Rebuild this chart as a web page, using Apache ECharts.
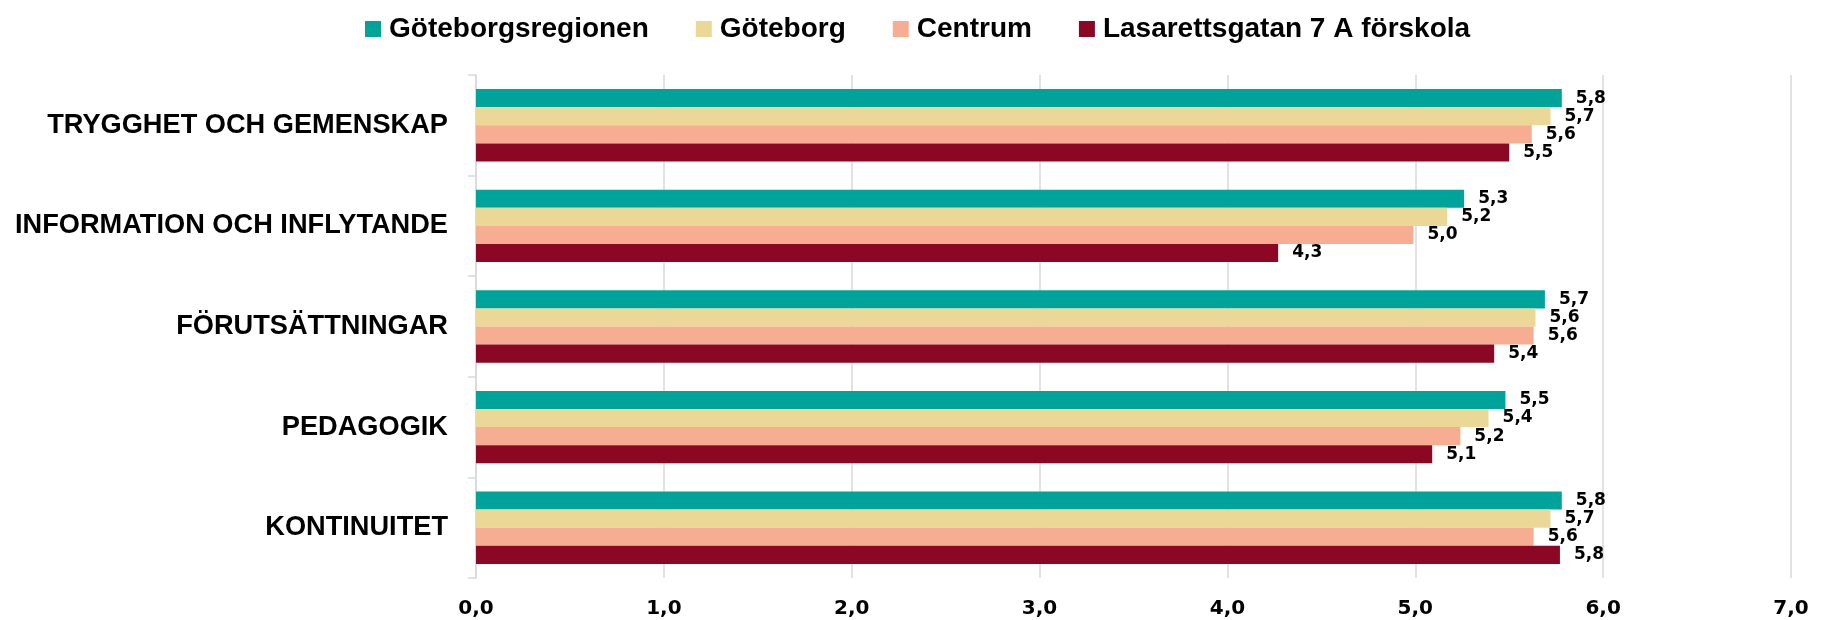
<!DOCTYPE html>
<html>
<head>
<meta charset="utf-8">
<script src="https://cdn.jsdelivr.net/npm/echarts@6/dist/echarts.min.js"></script>
<style>
html,body{margin:0;padding:0;background:#fff;}
#chart{width:1829px;height:620px;}
</style>
</head>
<body>
<div id="chart"></div>
<script>
const categories = ['TRYGGHET OCH GEMENSKAP','INFORMATION OCH INFLYTANDE','FÖRUTSÄTTNINGAR','PEDAGOGIK','KONTINUITET'];
const seriesNames = ['Göteborgsregionen','Göteborg','Centrum','Lasarettsgatan 7 A förskola'];
const goteborgsregionen = [5.78, 5.26, 5.69, 5.48, 5.78];
const goteborg = [5.72, 5.17, 5.64, 5.39, 5.72];
const centrum = [5.62, 4.99, 5.63, 5.24, 5.63];
const lasarettsgatan = [5.50, 4.27, 5.42, 5.09, 5.77];
const xTicks = [0,1,2,3,4,5,6,7];

const colors = ['#00a39a','#ecd896','#f6ad91','#8b0724'];
const values = [goteborgsregionen, goteborg, centrum, lasarettsgatan];
const fmt = v => v.toFixed(1).replace('.', ',');

const chart = echarts.init(document.getElementById('chart'), null, {renderer:'canvas'});
chart.setOption({
  animation:false,
  color: colors,
  legend:{
    top:8, left:360,
    itemWidth:16, itemHeight:16, itemGap:47,
    icon:'rect',
    textStyle:{fontFamily:'Liberation Sans, Arial, sans-serif', fontWeight:'bold', fontSize:28, color:'#000', lineHeight:32, padding:[0,0,0,3]},
    data: seriesNames
  },
  grid:{left:476, right:38, top:75, bottom:42},
  xAxis:{
    type:'value', min:xTicks[0], max:xTicks[xTicks.length-1], interval:1,
    axisLine:{show:false}, axisTick:{show:false},
    splitLine:{show:true, lineStyle:{color:'#d9d9d9', width:1.5}},
    axisLabel:{formatter:fmt, fontFamily:'DejaVu Sans', fontWeight:'bold', fontSize:20, color:'#000', margin:21}
  },
  yAxis:{
    type:'category', inverse:true, data:categories,
    axisLine:{show:true, lineStyle:{color:'#d9d9d9', width:1.5}},
    axisTick:{show:true, length:8, lineStyle:{color:'#d9d9d9', width:1.5}},
    axisLabel:{fontFamily:'Liberation Sans, Arial, sans-serif', fontWeight:'bold', fontSize:27.2, color:'#000', margin:28}
  },
  series: seriesNames.map((n,i)=>({
    name:n, type:'bar', data:values[i],
    barGap:'0%', barCategoryGap:'28%',
    itemStyle:{color:colors[i]},
    label:{show:true, position:'right', distance:14, formatter:p=>fmt(p.value),
      fontFamily:'DejaVu Sans', fontWeight:'bold', fontSize:17, color:'#000'}
  }))
});
</script>
</body>
</html>
